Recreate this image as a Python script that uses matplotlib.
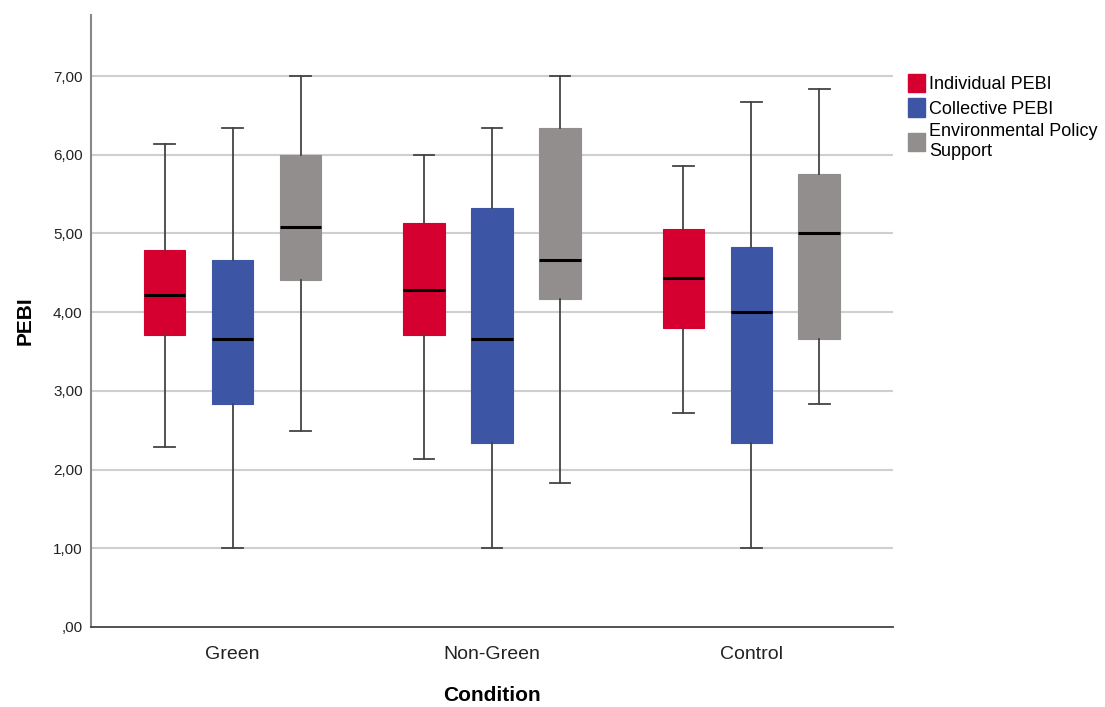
import matplotlib
matplotlib.use("Agg")
import matplotlib.pyplot as plt
from matplotlib.patches import Patch
from matplotlib.ticker import FixedLocator

plt.rcParams['font.family'] = ['Liberation Sans', 'DejaVu Sans']

conditions = ["Green", "Non-Green", "Control"]
series = ["Individual PEBI", "Collective PEBI", "Environmental Policy\nSupport"]
colors = ["#D5002F", "#3C55A5", "#928E8E"]

# [whislo, q1, median, q3, whishi] per condition
individual = [[2.29, 3.71, 4.22, 4.79, 6.14],
              [2.13, 3.71, 4.28, 5.13, 6.00],
              [2.72, 3.80, 4.43, 5.06, 5.86]]
collective = [[1.00, 2.83, 3.66, 4.66, 6.34],
              [1.00, 2.34, 3.66, 5.32, 6.34],
              [1.00, 2.34, 4.00, 4.83, 6.67]]
environmental = [[2.49, 4.41, 5.08, 6.00, 7.00],
                 [1.83, 4.17, 4.66, 6.34, 7.00],
                 [2.83, 3.66, 5.00, 5.76, 6.84]]
ytick_vals = [0, 1, 2, 3, 4, 5, 6, 7]
ytick_labels = [",00", "1,00", "2,00", "3,00", "4,00", "5,00", "6,00", "7,00"]

fig = plt.figure(figsize=(11.05, 7.07), dpi=100)
ax = fig.add_axes([0.0824, 0.1132, 0.7256, 0.866])

all_series = [individual, collective, environmental]
offsets = [-0.262, 0.0, 0.262]
for s_idx, (data, col, off) in enumerate(zip(all_series, colors, offsets)):
    stats = []
    for d in data:
        stats.append(dict(whislo=d[0], q1=d[1], med=d[2], q3=d[3], whishi=d[4], fliers=[]))
    positions = [i + off for i in range(len(conditions))]
    ax.bxp(stats, positions=positions, widths=0.16, patch_artist=True,
           showfliers=False,
           boxprops=dict(facecolor=col, edgecolor=col, linewidth=0.8),
           medianprops=dict(color="black", linewidth=2.2),
           whiskerprops=dict(color="#444444", linewidth=1.3),
           capprops=dict(color="#444444", linewidth=1.3),
           capwidths=0.08, zorder=3)

ax.set_xlim(-0.546, 2.546)
ax.set_ylim(0, 7.78)
ax.yaxis.set_major_locator(FixedLocator(ytick_vals))
ax.set_yticklabels(ytick_labels, fontsize=11, color="#222222")
ax.set_xticks(range(len(conditions)))
ax.set_xticklabels(conditions, fontsize=14, color="#222222")
ax.tick_params(axis="both", length=0, pad=6)
ax.tick_params(axis="x", pad=14)

for v in ytick_vals[1:]:
    ax.axhline(v, color="#CFCFCF", linewidth=1.5, zorder=1)

for sp in ["top", "right"]:
    ax.spines[sp].set_visible(False)
ax.spines["left"].set_color("#888888")
ax.spines["left"].set_linewidth(1.5)
ax.spines["bottom"].set_color("#444444")
ax.spines["bottom"].set_linewidth(1.3)

ax.set_ylabel("PEBI", fontsize=15, fontweight="bold", labelpad=13)
ax.set_xlabel("Condition", fontsize=15, fontweight="bold", labelpad=16)

handles = [Patch(facecolor=c, edgecolor=c, label=l) for c, l in zip(colors, series)]
leg = fig.legend(handles=handles, loc="upper left", bbox_to_anchor=(0.8154, 0.906),
                 frameon=False, fontsize=13, handlelength=0.95, handleheight=1.2,
                 handletextpad=0.2, labelspacing=0.3, borderaxespad=0)

fig.savefig("out.png", dpi=100)
